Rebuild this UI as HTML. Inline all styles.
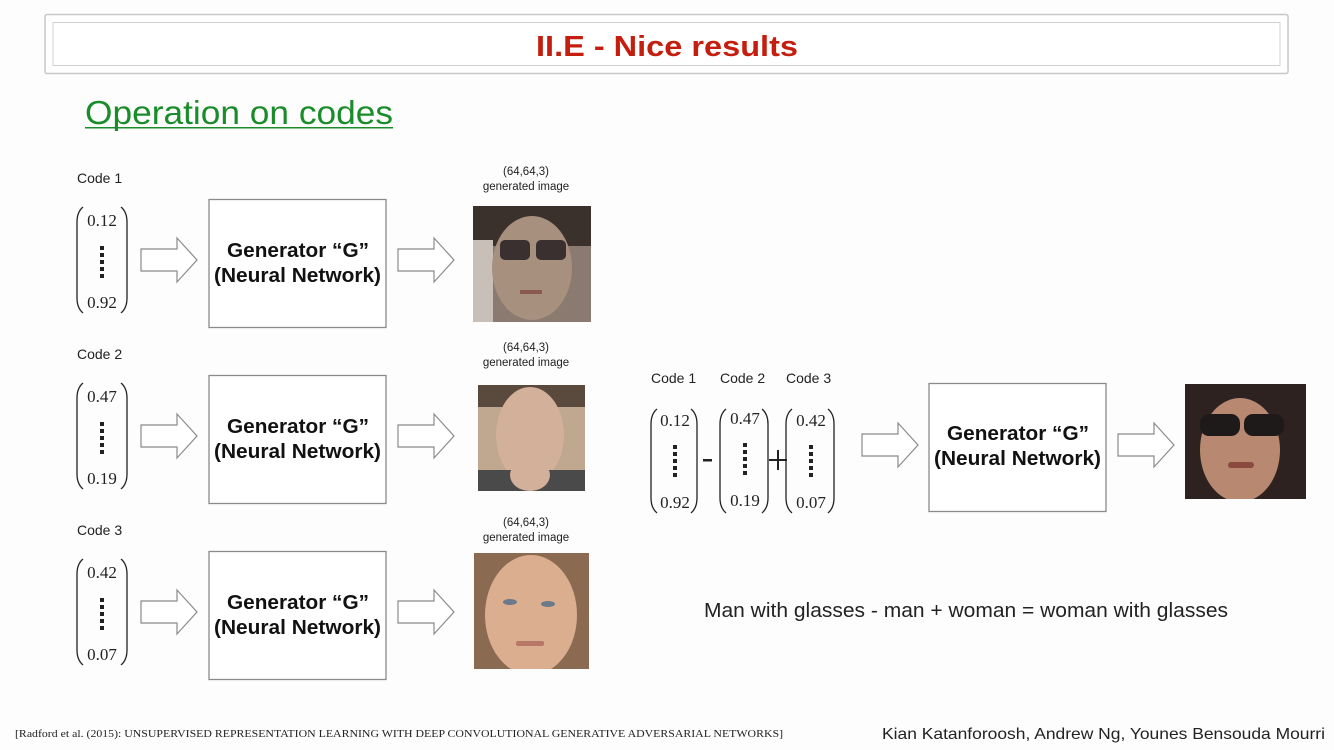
<!DOCTYPE html>
<html><head><meta charset="utf-8"><style>
html,body{margin:0;padding:0;background:#fdfdfd;}
svg{display:block}
text{font-family:"Liberation Sans",sans-serif;}
</style></head><body>
<svg width="1334" height="750" viewBox="0 0 1334 750" xmlns="http://www.w3.org/2000/svg">
<defs>
<g id="arr"><path d="M0,-11 L36,-11 L36,-22 L56,0 L36,22 L36,11 L0,11 Z" fill="#fff" stroke="#8a8a8a" stroke-width="1.2"/></g>
<g id="dots" fill="#222"><rect x="-2" y="0" width="4" height="4"/><rect x="-2" y="7" width="4" height="4"/><rect x="-2" y="14" width="4" height="4"/><rect x="-2" y="21" width="4" height="4"/><rect x="-2" y="28" width="4" height="4"/></g>
<clipPath id="c1"><rect x="473" y="206" width="118" height="116"/></clipPath>
<clipPath id="c2"><rect x="478" y="385" width="107" height="106"/></clipPath>
<clipPath id="c3"><rect x="474" y="553" width="115" height="116"/></clipPath>
<clipPath id="c4"><rect x="1185" y="384" width="121" height="115"/></clipPath>
</defs>
<rect x="0" y="0" width="1334" height="750" fill="#fdfdfd"/>
<rect x="45" y="14.5" width="1243" height="59" rx="2" fill="#fff" stroke="#c8c8c8" stroke-width="1.5"/>
<rect x="53" y="22.5" width="1227" height="43" fill="#fff" stroke="#d0d0d0" stroke-width="1"/>
<text x="536" y="56" font-size="29" font-weight="bold" fill="#c41e0e" textLength="262" lengthAdjust="spacingAndGlyphs">II.E - Nice results</text>
<text x="85" y="124" font-size="33" fill="#1a8c2a" textLength="308" lengthAdjust="spacingAndGlyphs">Operation on codes</text>
<rect x="85" y="127" width="308" height="1.5" fill="#1a8c2a"/>

<g id="row1">
<text x="77" y="183" font-size="14" fill="#222">Code 1</text>
<path d="M83,207 Q77,212 77,222 L77,298 Q77,308 83,313" fill="none" stroke="#222" stroke-width="1.3"/>
<path d="M121,207 Q127,212 127,222 L127,298 Q127,308 121,313" fill="none" stroke="#222" stroke-width="1.3"/>
<text x="102" y="226" text-anchor="middle" font-size="17" fill="#222" style="font-family:'Liberation Serif',serif">0.12</text>
<use href="#dots" x="102" y="246"/>
<text x="102" y="308" text-anchor="middle" font-size="17" fill="#222" style="font-family:'Liberation Serif',serif">0.92</text>
<use href="#arr" x="141" y="260"/>
<rect x="209" y="199.5" width="177" height="128" fill="#fff" stroke="#8a8a8a" stroke-width="1.3"/>
<text x="227" y="257" font-size="20" font-weight="bold" fill="#111" textLength="142" lengthAdjust="spacingAndGlyphs">Generator “G”</text>
<text x="214" y="282" font-size="20" font-weight="bold" fill="#111" textLength="167" lengthAdjust="spacingAndGlyphs">(Neural Network)</text>
<use href="#arr" x="398" y="260"/>
</g>
<use href="#row1" y="176"/>
<use href="#row1" y="352"/>
<rect x="70" y="340" width="70" height="150" fill="#fdfdfd"/>
<rect x="70" y="516" width="70" height="150" fill="#fdfdfd"/>
<g>
<text x="77" y="359" font-size="14" fill="#222">Code 2</text>
<path d="M83,383 Q77,388 77,398 L77,474 Q77,484 83,489" fill="none" stroke="#222" stroke-width="1.3"/>
<path d="M121,383 Q127,388 127,398 L127,474 Q127,484 121,489" fill="none" stroke="#222" stroke-width="1.3"/>
<text x="102" y="402" text-anchor="middle" font-size="17" fill="#222" style="font-family:'Liberation Serif',serif">0.47</text>
<use href="#dots" x="102" y="422"/>
<text x="102" y="484" text-anchor="middle" font-size="17" fill="#222" style="font-family:'Liberation Serif',serif">0.19</text>
<text x="77" y="535" font-size="14" fill="#222">Code 3</text>
<path d="M83,559 Q77,564 77,574 L77,650 Q77,660 83,665" fill="none" stroke="#222" stroke-width="1.3"/>
<path d="M121,559 Q127,564 127,574 L127,650 Q127,660 121,665" fill="none" stroke="#222" stroke-width="1.3"/>
<text x="102" y="578" text-anchor="middle" font-size="17" fill="#222" style="font-family:'Liberation Serif',serif">0.42</text>
<use href="#dots" x="102" y="598"/>
<text x="102" y="660" text-anchor="middle" font-size="17" fill="#222" style="font-family:'Liberation Serif',serif">0.07</text>
</g>
<g font-size="11.5" fill="#222" text-anchor="middle">
<text x="526" y="175">(64,64,3)</text><text x="526" y="190">generated image</text>
<text x="526" y="351">(64,64,3)</text><text x="526" y="366">generated image</text>
<text x="526" y="526">(64,64,3)</text><text x="526" y="541">generated image</text>
</g>
<g clip-path="url(#c1)">
<rect x="473" y="206" width="118" height="116" fill="#8a7a70"/>
<rect x="473" y="206" width="118" height="40" fill="#3a302c"/>
<rect x="473" y="240" width="20" height="82" fill="#c8c0b8"/>
<ellipse cx="532" cy="268" rx="40" ry="52" fill="#a8907e"/>
<rect x="500" y="240" width="30" height="20" rx="5" fill="#3a3030"/><rect x="536" y="240" width="30" height="20" rx="5" fill="#3a3030"/>
<rect x="520" y="290" width="22" height="4" fill="#8a5a50"/>
</g>
<g clip-path="url(#c2)">
<rect x="478" y="385" width="107" height="106" fill="#c0a890"/>
<rect x="478" y="385" width="107" height="22" fill="#5a4a3e"/>
<ellipse cx="530" cy="435" rx="34" ry="48" fill="#d2b09a"/>
<rect x="478" y="470" width="107" height="21" fill="#4a4a4a"/>
<ellipse cx="530" cy="475" rx="20" ry="16" fill="#d2b09a"/>
</g>
<g clip-path="url(#c3)">
<rect x="474" y="553" width="115" height="116" fill="#8a6a50"/>
<ellipse cx="531" cy="615" rx="46" ry="60" fill="#dcae90"/>
<ellipse cx="510" cy="602" rx="7" ry="3" fill="#6a7a8a"/><ellipse cx="548" cy="604" rx="7" ry="3" fill="#6a7a8a"/>
<rect x="516" y="641" width="28" height="5" rx="2" fill="#b87868"/>
</g>
<g font-size="14" fill="#222"><text x="651" y="383">Code 1</text><text x="720" y="383">Code 2</text><text x="786" y="383">Code 3</text></g>
<g fill="none" stroke="#222" stroke-width="1.3">
<path d="M657,409 Q651,414 651,424 L651,498 Q651,508 657,513"/><path d="M691,409 Q697,414 697,424 L697,498 Q697,508 691,513"/>
<path d="M726,409 Q720,414 720,424 L720,498 Q720,508 726,513"/><path d="M762,409 Q768,414 768,424 L768,498 Q768,508 762,513"/>
<path d="M792,409 Q786,414 786,424 L786,498 Q786,508 792,513"/><path d="M828,409 Q834,414 834,424 L834,498 Q834,508 828,513"/>
</g>
<g font-size="17" fill="#222" text-anchor="middle">
<text x="675" y="426" style="font-family:'Liberation Serif',serif">0.12</text><text x="675" y="508" style="font-family:'Liberation Serif',serif">0.92</text>
<text x="745" y="424" style="font-family:'Liberation Serif',serif">0.47</text><text x="745" y="506" style="font-family:'Liberation Serif',serif">0.19</text>
<text x="811" y="426" style="font-family:'Liberation Serif',serif">0.42</text><text x="811" y="508" style="font-family:'Liberation Serif',serif">0.07</text>
</g>
<use href="#dots" x="675" y="445"/><use href="#dots" x="745" y="443"/><use href="#dots" x="811" y="445"/>
<rect x="703" y="459" width="9" height="2.5" fill="#222"/>
<rect x="769" y="459" width="18" height="2" fill="#222"/><rect x="777" y="450" width="2" height="20" fill="#222"/>
<use href="#arr" x="862" y="445"/>
<rect x="929" y="383.5" width="177" height="128" fill="#fff" stroke="#8a8a8a" stroke-width="1.3"/>
<text x="947" y="440" font-size="20" font-weight="bold" fill="#111" textLength="142" lengthAdjust="spacingAndGlyphs">Generator “G”</text>
<text x="934" y="465" font-size="20" font-weight="bold" fill="#111" textLength="167" lengthAdjust="spacingAndGlyphs">(Neural Network)</text>
<use href="#arr" x="1118" y="445"/>
<g clip-path="url(#c4)">
<rect x="1185" y="384" width="121" height="115" fill="#2e2220"/>
<ellipse cx="1240" cy="450" rx="40" ry="52" fill="#b88870"/>
<rect x="1200" y="414" width="40" height="22" rx="9" fill="#1e1a1a"/><rect x="1244" y="414" width="40" height="22" rx="9" fill="#1e1a1a"/>
<rect x="1228" y="462" width="26" height="6" rx="3" fill="#8a4a40"/>
</g>
<text x="704" y="617" font-size="20" fill="#222" textLength="524" lengthAdjust="spacingAndGlyphs">Man with glasses - man + woman = woman with glasses</text>
<text x="15" y="737" font-size="11" fill="#222" style="font-family:'Liberation Serif',serif" textLength="768" lengthAdjust="spacingAndGlyphs">[Radford et al. (2015): UNSUPERVISED REPRESENTATION LEARNING WITH DEEP CONVOLUTIONAL GENERATIVE ADVERSARIAL NETWORKS]</text>
<text x="882" y="739" font-size="16" fill="#222" textLength="443" lengthAdjust="spacingAndGlyphs">Kian Katanforoosh, Andrew Ng, Younes Bensouda Mourri</text>
</svg>
</body></html>
